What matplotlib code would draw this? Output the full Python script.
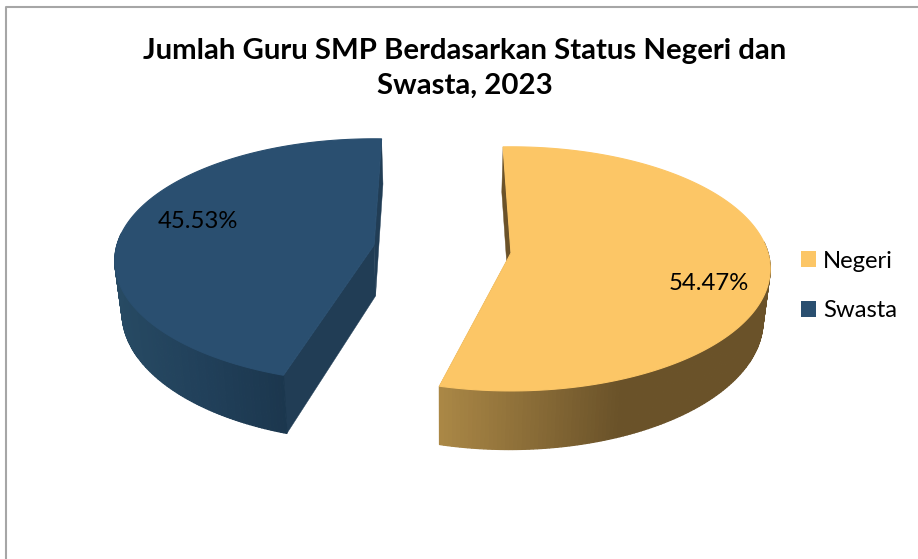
import numpy as np
import matplotlib
matplotlib.use("Agg")
import matplotlib.pyplot as plt
from matplotlib.patches import Patch
from matplotlib.colors import to_rgb

title = "Jumlah Guru SMP Berdasarkan Status Negeri dan\nSwasta, 2023"
categories = ["Negeri", "Swasta"]
values = [54.47, 45.53]
value_labels = ["54.47%", "45.53%"]

plt.rcParams["font.family"] = ["Lato", "DejaVu Sans"]

# look of each slice, in pixels of the picture
apex = [(511, 253), (374, 245)]
start_angle = [-2.0, 198.0]
top_colors = ["#FCC666", "#2A4F70"]
cut_colors = ["#6B5229", "#213D55"]
side_x = [[438, 620, 770], [115, 200, 288]]
side_colors = [["#AB8846", "#6A5229", "#6A5229"], ["#274A63", "#21405A", "#1B364D"]]
label_pos = [(709, 283), (198, 221)]

a, b, k = 257.0, 120.0, 0.13
depth = 51.0
shrink = 0.978
center_x = 445.0


def rim(theta, ax0, ay0):
    # perspective disc, theta clockwise from the back
    t = np.radians(theta)
    s = 1 / (1 + k * np.cos(t))
    return ax0 + a * np.sin(t) * s, ay0 - b * np.cos(t) * s, s


def lower(x, y, s):
    return center_x + (x - center_x) * shrink, y + depth * s


fig = plt.figure(figsize=(9.18, 5.59), dpi=100)
ax = fig.add_axes([0, 0, 1, 1])
ax.set_xlim(0, 918)
ax.set_ylim(559, 0)
ax.axis("off")

# chart frame
ax.plot([5.5, 5.5, 918], [559, 6.5, 6.5], color="#A6A6A6", lw=1.5)

for i, val in enumerate(values):
    ax0, ay0 = apex[i]
    sweep = val / 100 * 360
    th = np.linspace(start_angle[i], start_angle[i] + sweep, 241)
    x, y, s = rim(th, ax0, ay0)
    xl, yl = lower(x, y, s)
    lax, lay = lower(ax0, ay0, 1.0)

    # cut faces
    for j in [0, -1]:
        ax.fill([ax0, x[j], xl[j], lax], [ay0, y[j], yl[j], lay],
                color=cut_colors[i], lw=0.3)

    # outer wall, strip by strip for the shading (back part is hidden anyway)
    rgb = np.array([to_rgb(c) for c in side_colors[i]])
    for j in range(len(th) - 1):
        if np.cos(np.radians(th[j])) > 0.1:
            continue
        mid = 0.5 * (x[j] + x[j + 1])
        col = [np.interp(mid, side_x[i], rgb[:, n]) for n in range(3)]
        ax.fill([x[j], x[j + 1], xl[j + 1], xl[j]], [y[j], y[j + 1], yl[j + 1], yl[j]],
                color=col, lw=0.9)

    # top face
    ax.fill(np.r_[ax0, x], np.r_[ay0, y], color=top_colors[i], lw=0.8)
    ax.text(label_pos[i][0], label_pos[i][1], value_labels[i], ha="center", va="center",
            fontsize=17.2, color="black")

ax.text(465, 68, title, ha="center", va="center", fontsize=21.2, fontweight="bold",
        color="black", linespacing=1.42)

handles = [Patch(facecolor=c, label=n) for c, n in zip(top_colors, categories)]
ax.legend(handles=handles, loc="center left", bbox_to_anchor=(801 / 918, 1 - 286 / 559),
          frameon=False, fontsize=17.2, handlelength=0.63, handleheight=0.63,
          handletextpad=0.3, labelspacing=1.2, borderpad=0, borderaxespad=0)

fig.savefig("out.png", dpi=100)
